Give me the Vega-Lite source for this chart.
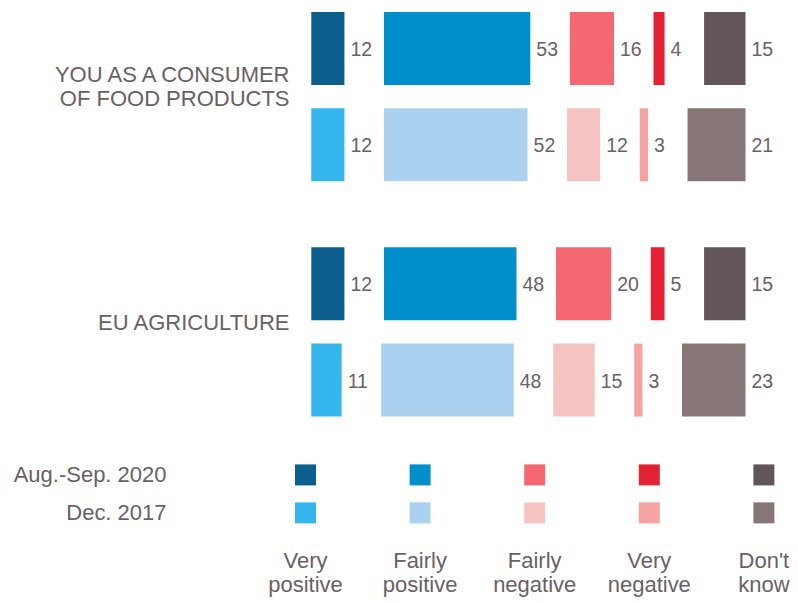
{
  "$schema": "https://vega.github.io/schema/vega-lite/v6.json",
  "padding": {"left": 13, "top": 12, "right": 4, "bottom": 4},
  "background": "white",
  "config": {
    "view": {"stroke": null},
    "font": "Liberation Sans",
    "axis": {"labelColor": "#6a6164", "labelFont": "Liberation Sans", "domain": false, "ticks": false, "grid": false, "title": null, "labelLimit": 500, "labelOverlap": false}
  },
  "datasets": {
    "survey": [
      {"topic": "YOU AS A CONSUMER OF FOOD PRODUCTS", "year": "Aug.-Sep. 2020", "answer": "Very positive", "value": 12},
      {"topic": "YOU AS A CONSUMER OF FOOD PRODUCTS", "year": "Aug.-Sep. 2020", "answer": "Fairly positive", "value": 53},
      {"topic": "YOU AS A CONSUMER OF FOOD PRODUCTS", "year": "Aug.-Sep. 2020", "answer": "Fairly negative", "value": 16},
      {"topic": "YOU AS A CONSUMER OF FOOD PRODUCTS", "year": "Aug.-Sep. 2020", "answer": "Very negative", "value": 4},
      {"topic": "YOU AS A CONSUMER OF FOOD PRODUCTS", "year": "Aug.-Sep. 2020", "answer": "Don't know", "value": 15},
      {"topic": "YOU AS A CONSUMER OF FOOD PRODUCTS", "year": "Dec. 2017", "answer": "Very positive", "value": 12},
      {"topic": "YOU AS A CONSUMER OF FOOD PRODUCTS", "year": "Dec. 2017", "answer": "Fairly positive", "value": 52},
      {"topic": "YOU AS A CONSUMER OF FOOD PRODUCTS", "year": "Dec. 2017", "answer": "Fairly negative", "value": 12},
      {"topic": "YOU AS A CONSUMER OF FOOD PRODUCTS", "year": "Dec. 2017", "answer": "Very negative", "value": 3},
      {"topic": "YOU AS A CONSUMER OF FOOD PRODUCTS", "year": "Dec. 2017", "answer": "Don't know", "value": 21},
      {"topic": "EU AGRICULTURE", "year": "Aug.-Sep. 2020", "answer": "Very positive", "value": 12},
      {"topic": "EU AGRICULTURE", "year": "Aug.-Sep. 2020", "answer": "Fairly positive", "value": 48},
      {"topic": "EU AGRICULTURE", "year": "Aug.-Sep. 2020", "answer": "Fairly negative", "value": 20},
      {"topic": "EU AGRICULTURE", "year": "Aug.-Sep. 2020", "answer": "Very negative", "value": 5},
      {"topic": "EU AGRICULTURE", "year": "Aug.-Sep. 2020", "answer": "Don't know", "value": 15},
      {"topic": "EU AGRICULTURE", "year": "Dec. 2017", "answer": "Very positive", "value": 11},
      {"topic": "EU AGRICULTURE", "year": "Dec. 2017", "answer": "Fairly positive", "value": 48},
      {"topic": "EU AGRICULTURE", "year": "Dec. 2017", "answer": "Fairly negative", "value": 15},
      {"topic": "EU AGRICULTURE", "year": "Dec. 2017", "answer": "Very negative", "value": 3},
      {"topic": "EU AGRICULTURE", "year": "Dec. 2017", "answer": "Don't know", "value": 23}
    ]
  },
  "bounds": "flush",
  "spacing": 47.4,
  "vconcat": [
    {
      "width": 479.4,
      "height": 404.6,
      "data": {"name": "survey"},
      "transform": [
        {"calculate": "indexof(['Very positive','Fairly positive','Fairly negative','Very negative',\"Don't know\"], datum.answer)", "as": "idx"},
        {"calculate": "datum.answer + '|' + datum.year", "as": "key"},
        {"window": [{"op": "sum", "field": "value", "as": "cum"}], "groupby": ["topic", "year"], "sort": [{"field": "idx"}], "frame": [null, 0]},
        {"calculate": "datum.cum + datum.idx * 14.31", "as": "xend"},
        {"calculate": "datum.xend - datum.value", "as": "xstart"}
      ],
      "encoding": {
        "y": {
          "field": "topic", "type": "nominal",
          "scale": {"domain": ["YOU AS A CONSUMER OF FOOD PRODUCTS", "EU AGRICULTURE"], "paddingInner": 0.2805, "paddingOuter": 0},
          "axis": {"labelFontSize": 22, "labelPadding": 6, "labelLineHeight": 24,
                   "labelOffset": {"condition": {"test": "datum.value == 'EU AGRICULTURE'", "value": -8.5}, "value": -21.5},
                   "labelExpr": "datum.value == 'YOU AS A CONSUMER OF FOOD PRODUCTS' ? ['YOU AS A CONSUMER', 'OF FOOD PRODUCTS'] : datum.value"}
        },
        "yOffset": {
          "field": "year", "type": "nominal",
          "scale": {"domain": ["Aug.-Sep. 2020", "Dec. 2017"], "paddingInner": 0.242, "paddingOuter": 0}
        }
      },
      "layer": [
        {
          "mark": {"type": "bar"},
          "encoding": {
            "x": {"field": "xstart", "type": "quantitative", "scale": {"domain": [-5.9, 167.7], "nice": false, "zero": false}, "axis": null},
            "x2": {"field": "xend"},
            "color": {
              "field": "key", "type": "nominal", "legend": null,
              "scale": {
                "domain": ["Very positive|Aug.-Sep. 2020", "Very positive|Dec. 2017", "Fairly positive|Aug.-Sep. 2020", "Fairly positive|Dec. 2017", "Fairly negative|Aug.-Sep. 2020", "Fairly negative|Dec. 2017", "Very negative|Aug.-Sep. 2020", "Very negative|Dec. 2017", "Don't know|Aug.-Sep. 2020", "Don't know|Dec. 2017"],
                "range": ["#0c5e8e", "#36b6ee", "#008fcb", "#aad1ef", "#f56871", "#f5c4c2", "#e42234", "#f5a3a1", "#62565b", "#877677"]
              }
            }
          }
        },
        {
          "mark": {"type": "text", "align": "left", "baseline": "middle", "dx": 6, "dy": 1.5, "fontSize": 19.5, "color": "#6a6164"},
          "encoding": {
            "x": {"field": "xend", "type": "quantitative"},
            "text": {"field": "value", "type": "quantitative"}
          }
        }
      ]
    },
    {
      "width": 479.4,
      "height": 59,
      "data": {"name": "survey"},
      "transform": [
        {"filter": "datum.topic == 'EU AGRICULTURE'"},
        {"calculate": "datum.answer + '|' + datum.year", "as": "key"}
      ],
      "mark": {"type": "rect"},
      "encoding": {
        "x": {
          "field": "answer", "type": "nominal",
          "scale": {"domain": ["Very positive", "Fairly positive", "Fairly negative", "Very negative", "Don't know"], "paddingInner": 0.8168, "paddingOuter": 0},
          "axis": {"orient": "bottom", "labelFontSize": 22, "labelAngle": 0, "labelPadding": 27, "labelLineHeight": 24, "labelBaseline": "top",
                   "labelExpr": "split(datum.value, ' ')"}
        },
        "y": {
          "field": "year", "type": "nominal",
          "scale": {"domain": ["Aug.-Sep. 2020", "Dec. 2017"], "paddingInner": 0.447, "paddingOuter": 0},
          "axis": {"labelFontSize": 22, "labelPadding": 129}
        },
        "color": {"field": "key", "type": "nominal", "legend": null}
      }
    }
  ]
}
